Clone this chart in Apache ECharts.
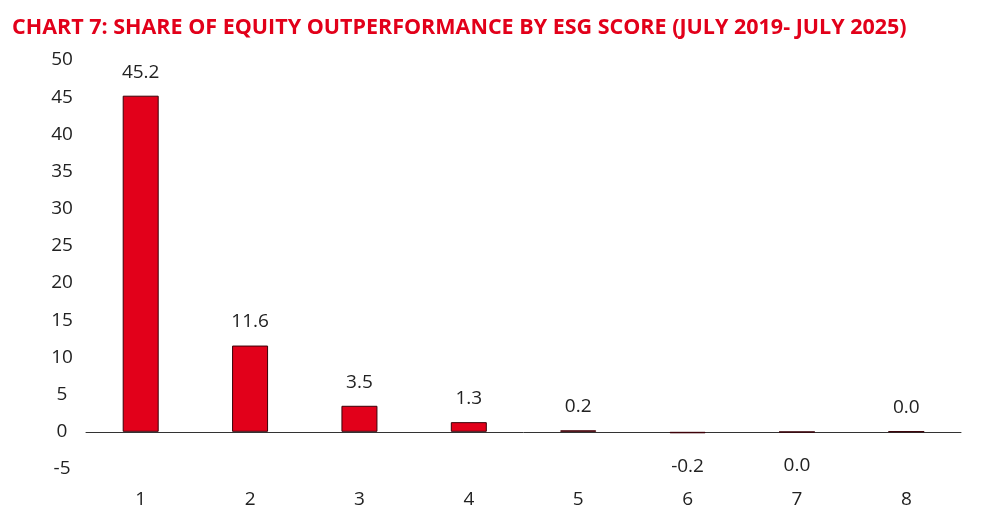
<!DOCTYPE html><html><head><meta charset="utf-8">
<script src="https://cdn.jsdelivr.net/npm/echarts@6/dist/echarts.min.js"></script>
<style>html,body{margin:0;padding:0;background:#fff}#c{width:992px;height:528px}</style></head>
<body><div id="c"></div><script>
const categories = ['1','2','3','4','5','6','7','8'];
const values = [45.2, 11.6, 3.5, 1.3, 0.2, -0.2, -0.04, 0.04];
const yTicks = [-5, 50, 5];
const chart = echarts.init(document.getElementById('c'));
chart.setOption({
  animation:false,
  title:{text:'CHART 7: SHARE OF EQUITY OUTPERFORMANCE BY ESG SCORE (JULY 2019- JULY 2025)',left:7,top:12,
    textStyle:{color:'#e2001a',fontFamily:'Open Sans',fontWeight:'bold',fontSize:21.5}},
  grid:{left:86,right:31,top:60,bottom:59},
  xAxis:{type:'category',data:categories,axisTick:{show:false},
    axisLine:{onZero:true,lineStyle:{color:'#333'}},
    axisLabel:{color:'#222',fontFamily:'Open Sans',fontSize:19,margin:21}},
  yAxis:{type:'value',min:yTicks[0],max:yTicks[1],interval:yTicks[2],splitLine:{show:false},
    axisLine:{show:false},axisTick:{show:false},
    axisLabel:{color:'#222',fontFamily:'Open Sans',fontSize:19,margin:24,align:'center'}},
  series:[{type:'bar',barWidth:36,
    data:values.map(v=>({value:v,label:{position:v<0?'bottom':'top',distance:v<0?24:14}})),
    itemStyle:{color:'#e2001a',borderColor:'#3a0008',borderWidth:1},
    label:{show:true,color:'#222',fontFamily:'Open Sans',fontSize:19,
      formatter:p=>Math.abs(p.value)<0.05?'0.0':p.value.toFixed(1)}}]
});
</script></body></html>
